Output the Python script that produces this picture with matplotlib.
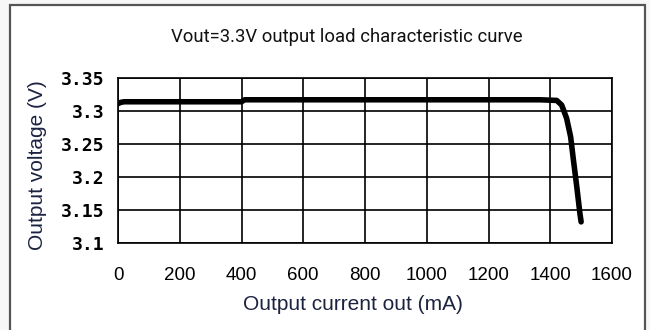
import matplotlib.pyplot as plt
from matplotlib.patches import Rectangle

# data
current_ma = [0, 8, 20, 400, 410, 1000, 1367, 1421, 1437, 1453, 1466, 1475, 1486, 1496, 1500]
voltage_v = [3.311, 3.313, 3.314, 3.314, 3.317, 3.317, 3.317, 3.316, 3.309, 3.289, 3.261,
             3.226, 3.185, 3.145, 3.132]

x_ticks = [0, 200, 400, 600, 800, 1000, 1200, 1400, 1600]
y_ticks = [3.1, 3.15, 3.2, 3.25, 3.3, 3.35]
y_tick_labels = ['3.1', '3.15', '3.2', '3.25', '3.3', '3.35']

TITLE = 'Vout=3.3V output load characteristic curve'
X_LABEL = 'Output current out (mA)'
Y_LABEL = 'Output voltage (V)'
LABEL_COLOR = '#1c2340'

fig = plt.figure(figsize=(6.5, 3.3), dpi=100, facecolor='#f7f7f7')

# outer frame of the picture
frame = Rectangle((10 / 650, -0.05), 635 / 650, 1.05 - 5 / 330,
                  transform=fig.transFigure, facecolor='white',
                  edgecolor='#555555', linewidth=1.6, zorder=0)
fig.patches.append(frame)

ax = fig.add_axes([118 / 650, 1 - 243 / 330, 494 / 650, 165 / 330])
ax.set_zorder(2)
ax.patch.set_alpha(0)
ax.plot(current_ma, voltage_v, color='black', linewidth=4.0,
        solid_capstyle='round', solid_joinstyle='round', zorder=3)

ax.set_xlim(0, 1600)
ax.set_ylim(3.1, 3.35)
ax.set_xticks(x_ticks)
ax.set_yticks(y_ticks)
ax.set_xticklabels([str(t) for t in x_ticks], family='Liberation Sans', fontsize=13.5)
ax.set_yticklabels(y_tick_labels, family='DejaVu Sans Mono', fontweight='bold', fontsize=13)
ax.tick_params(length=0)
ax.tick_params(axis='x', pad=17)
ax.tick_params(axis='y', pad=10)
ax.grid(True, color='black', linewidth=1.2)
for s in ax.spines.values():
    s.set_color('black')
    s.set_linewidth(1.2)

fig.text(347 / 650, 1 - 42 / 330, TITLE, family='Roboto', fontsize=13.3,
         color='#111111', ha='center', va='baseline')
fig.text(353 / 650, 1 - 310 / 330, X_LABEL, family='Liberation Sans', fontsize=15,
         color=LABEL_COLOR, ha='center', va='baseline')
fig.text(38 / 650, 1 - 165 / 330, Y_LABEL, family='Liberation Sans', fontsize=15,
         color=LABEL_COLOR, ha='center', va='center', rotation=90)

fig.savefig('out.png', dpi=100, facecolor=fig.get_facecolor())
